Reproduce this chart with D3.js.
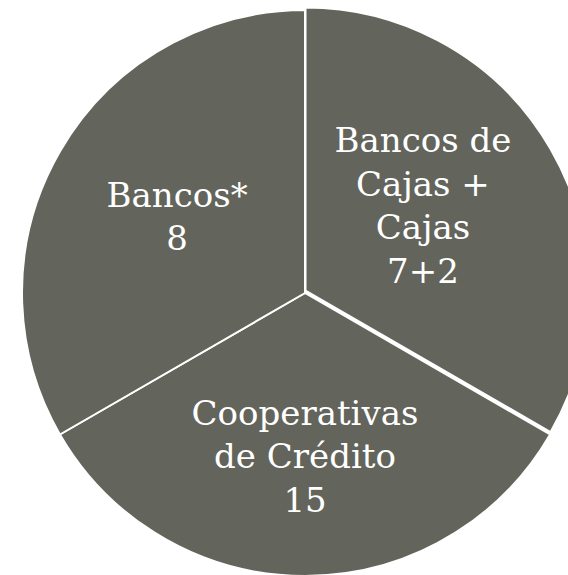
<!DOCTYPE html>
<html><head><meta charset="utf-8">
<script src="https://cdn.jsdelivr.net/npm/d3@7"></script>
<style>html,body{margin:0;padding:0;background:#fff;overflow:hidden}</style>
</head><body>
<svg id="chart" width="568" height="575"></svg>
<script>
// Data
const categories = ["Bancos de Cajas + Cajas", "Cooperativas de Crédito", "Bancos*"];
const labelLines = [["Bancos de", "Cajas +", "Cajas", "7+2"], ["Cooperativas", "de Crédito", "15"], ["Bancos*", "8"]];
const counts = [9, 15, 8];
const sliceWeights = [1, 1, 1]; // equal-sized slices as drawn in the reference

// Layout
const W = 568, H = 575;
const cx = 305, cy = 293, R = 283;
const fill = "#63645b";
const explode = [[0.5, -2.5], [0, 0], [0, 0]];
const labelNudge = [[-12, -13], [0, 13], [2, -2]];

const svg = d3.select("#chart");
const g = svg.append("g").attr("transform", `translate(${cx},${cy})`);

const pie = d3.pie().sort(null).value((d, i) => sliceWeights[i]);
const arcs = pie(categories);
const arc = d3.arc().innerRadius(0).outerRadius(R);
const labelArc = d3.arc().innerRadius(150).outerRadius(150);

g.selectAll("path.slice").data(arcs).join("path")
  .attr("class", "slice")
  .attr("d", arc)
  .attr("fill", fill)
  .attr("stroke", "#fff")
  .attr("stroke-width", 2)
  .attr("stroke-linejoin", "miter")
  .attr("transform", (d, i) => `translate(${explode[i][0]},${explode[i][1]})`);

const fontSize = 34, lineH = 43.5;
arcs.forEach((d, i) => {
  const [x, y] = labelArc.centroid(d);
  const lines = labelLines[i];
  const t = g.append("text")
    .attr("text-anchor", "middle")
    .attr("font-family", "'DejaVu Serif', serif")
    .attr("font-size", fontSize)
    .attr("fill", "#fff");
  const x0 = x + labelNudge[i][0];
  const yTop = y + labelNudge[i][1] - (lines.length - 1) * lineH / 2 + fontSize * 0.36;
  lines.forEach((s, k) => {
    t.append("tspan").attr("x", x0).attr("y", yTop + k * lineH).text(s);
  });
});
</script>
</body></html>
